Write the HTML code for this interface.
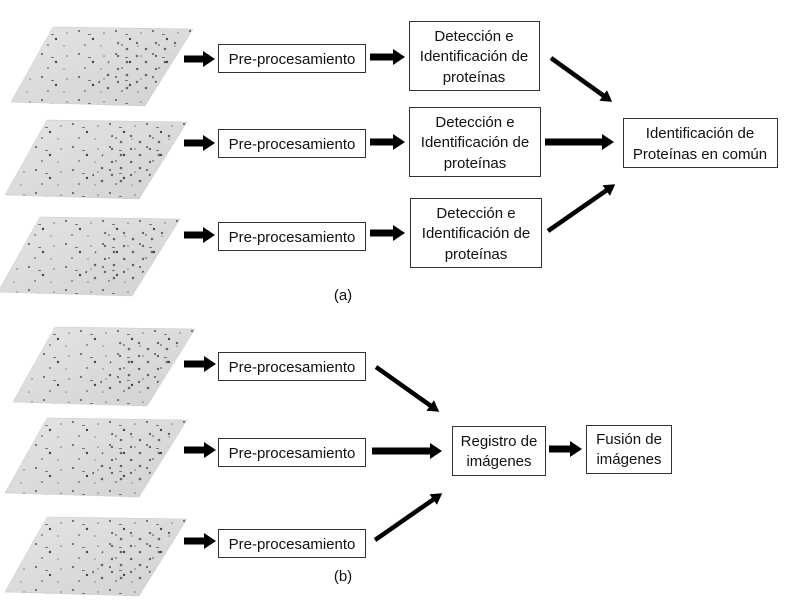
<!DOCTYPE html>
<html><head><meta charset="utf-8"><style>
html,body{margin:0;padding:0;background:#fff;}
svg{display:block;}
text{font-family:"Liberation Sans",sans-serif;font-size:15px;fill:#111;}
</style></head><body>
<svg width="788" height="607" viewBox="0 0 788 607" xmlns="http://www.w3.org/2000/svg">
<defs>
<linearGradient id="gg" x1="0" y1="0" x2="1" y2="1">
<stop offset="0" stop-color="#e4e4e4"/><stop offset="1" stop-color="#d2d2d2"/>
</linearGradient>
<pattern id="sp" width="37" height="23" patternUnits="userSpaceOnUse">
<circle cx="5" cy="4" r="1" fill="#555"/>
<circle cx="19" cy="12" r="1.2" fill="#444"/>
<circle cx="30" cy="6" r="0.8" fill="#777"/>
<circle cx="11" cy="18" r="0.9" fill="#666"/>
<circle cx="27" cy="19" r="0.8" fill="#888"/>
<rect x="14" y="7" width="3" height="1" fill="#777"/>
</pattern>
<pattern id="sp2" width="19" height="13" patternUnits="userSpaceOnUse">
<circle cx="4" cy="3" r="1.2" fill="#333"/>
<circle cx="13" cy="9" r="1.3" fill="#333"/>
</pattern>
<marker id="ah" markerWidth="12" markerHeight="16" refX="1" refY="8" orient="auto" markerUnits="userSpaceOnUse">
<path d="M0,0 L12,8 L0,16 Z" fill="#000"/>
</marker>
<marker id="ah2" markerWidth="11" markerHeight="13" refX="1" refY="6.5" orient="auto" markerUnits="userSpaceOnUse">
<path d="M0,0 L11,6.5 L0,13 Z" fill="#000"/>
</marker>
<g id="gel">
<polygon points="53,0 193,2 145,79 11,75" fill="url(#gg)" stroke="#c8c8c8" stroke-width="0.5"/>
<polygon points="53,0 193,2 145,79 11,75" fill="url(#sp)"/>
<polygon points="120,10 185,12 150,65 95,62" fill="url(#sp2)" opacity="0.7"/>
</g>
</defs>

<use href="#gel" x="0" y="27"/>
<use href="#gel" x="-6" y="120"/>
<use href="#gel" x="-13" y="217"/>
<use href="#gel" x="2" y="327"/>
<use href="#gel" x="-6" y="418"/>
<use href="#gel" x="-6" y="517"/>

<g fill="#fff" stroke="#333" stroke-width="1">
<rect x="218.5" y="44.5" width="147" height="28"/>
<rect x="218.5" y="129.5" width="147" height="28"/>
<rect x="218.5" y="222.5" width="147" height="28"/>
<rect x="409.5" y="21.5" width="130" height="69"/>
<rect x="409.5" y="107.5" width="131" height="69"/>
<rect x="410.5" y="198.5" width="131" height="69"/>
<rect x="623.5" y="118.5" width="154" height="49"/>
<rect x="218.5" y="352.5" width="147" height="28"/>
<rect x="218.5" y="438.5" width="147" height="28"/>
<rect x="218.5" y="529.5" width="147" height="28"/>
<rect x="452.5" y="426.5" width="93" height="49"/>
<rect x="586.5" y="425.5" width="85" height="48"/>
</g>

<g stroke="#000" stroke-width="7" marker-end="url(#ah)">
<line x1="184" y1="59" x2="204" y2="59"/>
<line x1="184" y1="143" x2="204" y2="143"/>
<line x1="184" y1="235" x2="204" y2="235"/>
<line x1="370" y1="57" x2="394" y2="57"/>
<line x1="370" y1="142" x2="394" y2="142"/>
<line x1="370" y1="233" x2="394" y2="233"/>
<line x1="545" y1="142" x2="603" y2="142"/>
<line x1="184" y1="364" x2="205" y2="364"/>
<line x1="184" y1="450" x2="205" y2="450"/>
<line x1="184" y1="541" x2="205" y2="541"/>
<line x1="372" y1="451" x2="431" y2="451"/>
<line x1="549" y1="449" x2="571" y2="449"/>
</g>
<g stroke="#000" stroke-width="4.5" marker-end="url(#ah2)">
<line x1="551" y1="58" x2="604" y2="96"/>
<line x1="548" y1="231" x2="607" y2="190"/>
<line x1="376" y1="367" x2="431" y2="406"/>
<line x1="375" y1="540" x2="434" y2="499"/>
</g>

<g text-anchor="middle">
<text x="292" y="64">Pre-procesamiento</text>
<text x="292" y="149">Pre-procesamiento</text>
<text x="292" y="242">Pre-procesamiento</text>
<text x="474" y="41">Detección e</text>
<text x="474" y="61">Identificación de</text>
<text x="474" y="82">proteínas</text>
<text x="475" y="127">Detección e</text>
<text x="475" y="147">Identificación de</text>
<text x="475" y="168">proteínas</text>
<text x="476" y="218">Detección e</text>
<text x="476" y="238">Identificación de</text>
<text x="476" y="259">proteínas</text>
<text x="700" y="138">Identificación de</text>
<text x="700" y="159">Proteínas en común</text>
<text x="343" y="300">(a)</text>
<text x="292" y="372">Pre-procesamiento</text>
<text x="292" y="458">Pre-procesamiento</text>
<text x="292" y="549">Pre-procesamiento</text>
<text x="499" y="446">Registro de</text>
<text x="499" y="466">imágenes</text>
<text x="629" y="444">Fusión de</text>
<text x="629" y="464">imágenes</text>
<text x="343" y="581">(b)</text>
</g>
</svg>
</body></html>
